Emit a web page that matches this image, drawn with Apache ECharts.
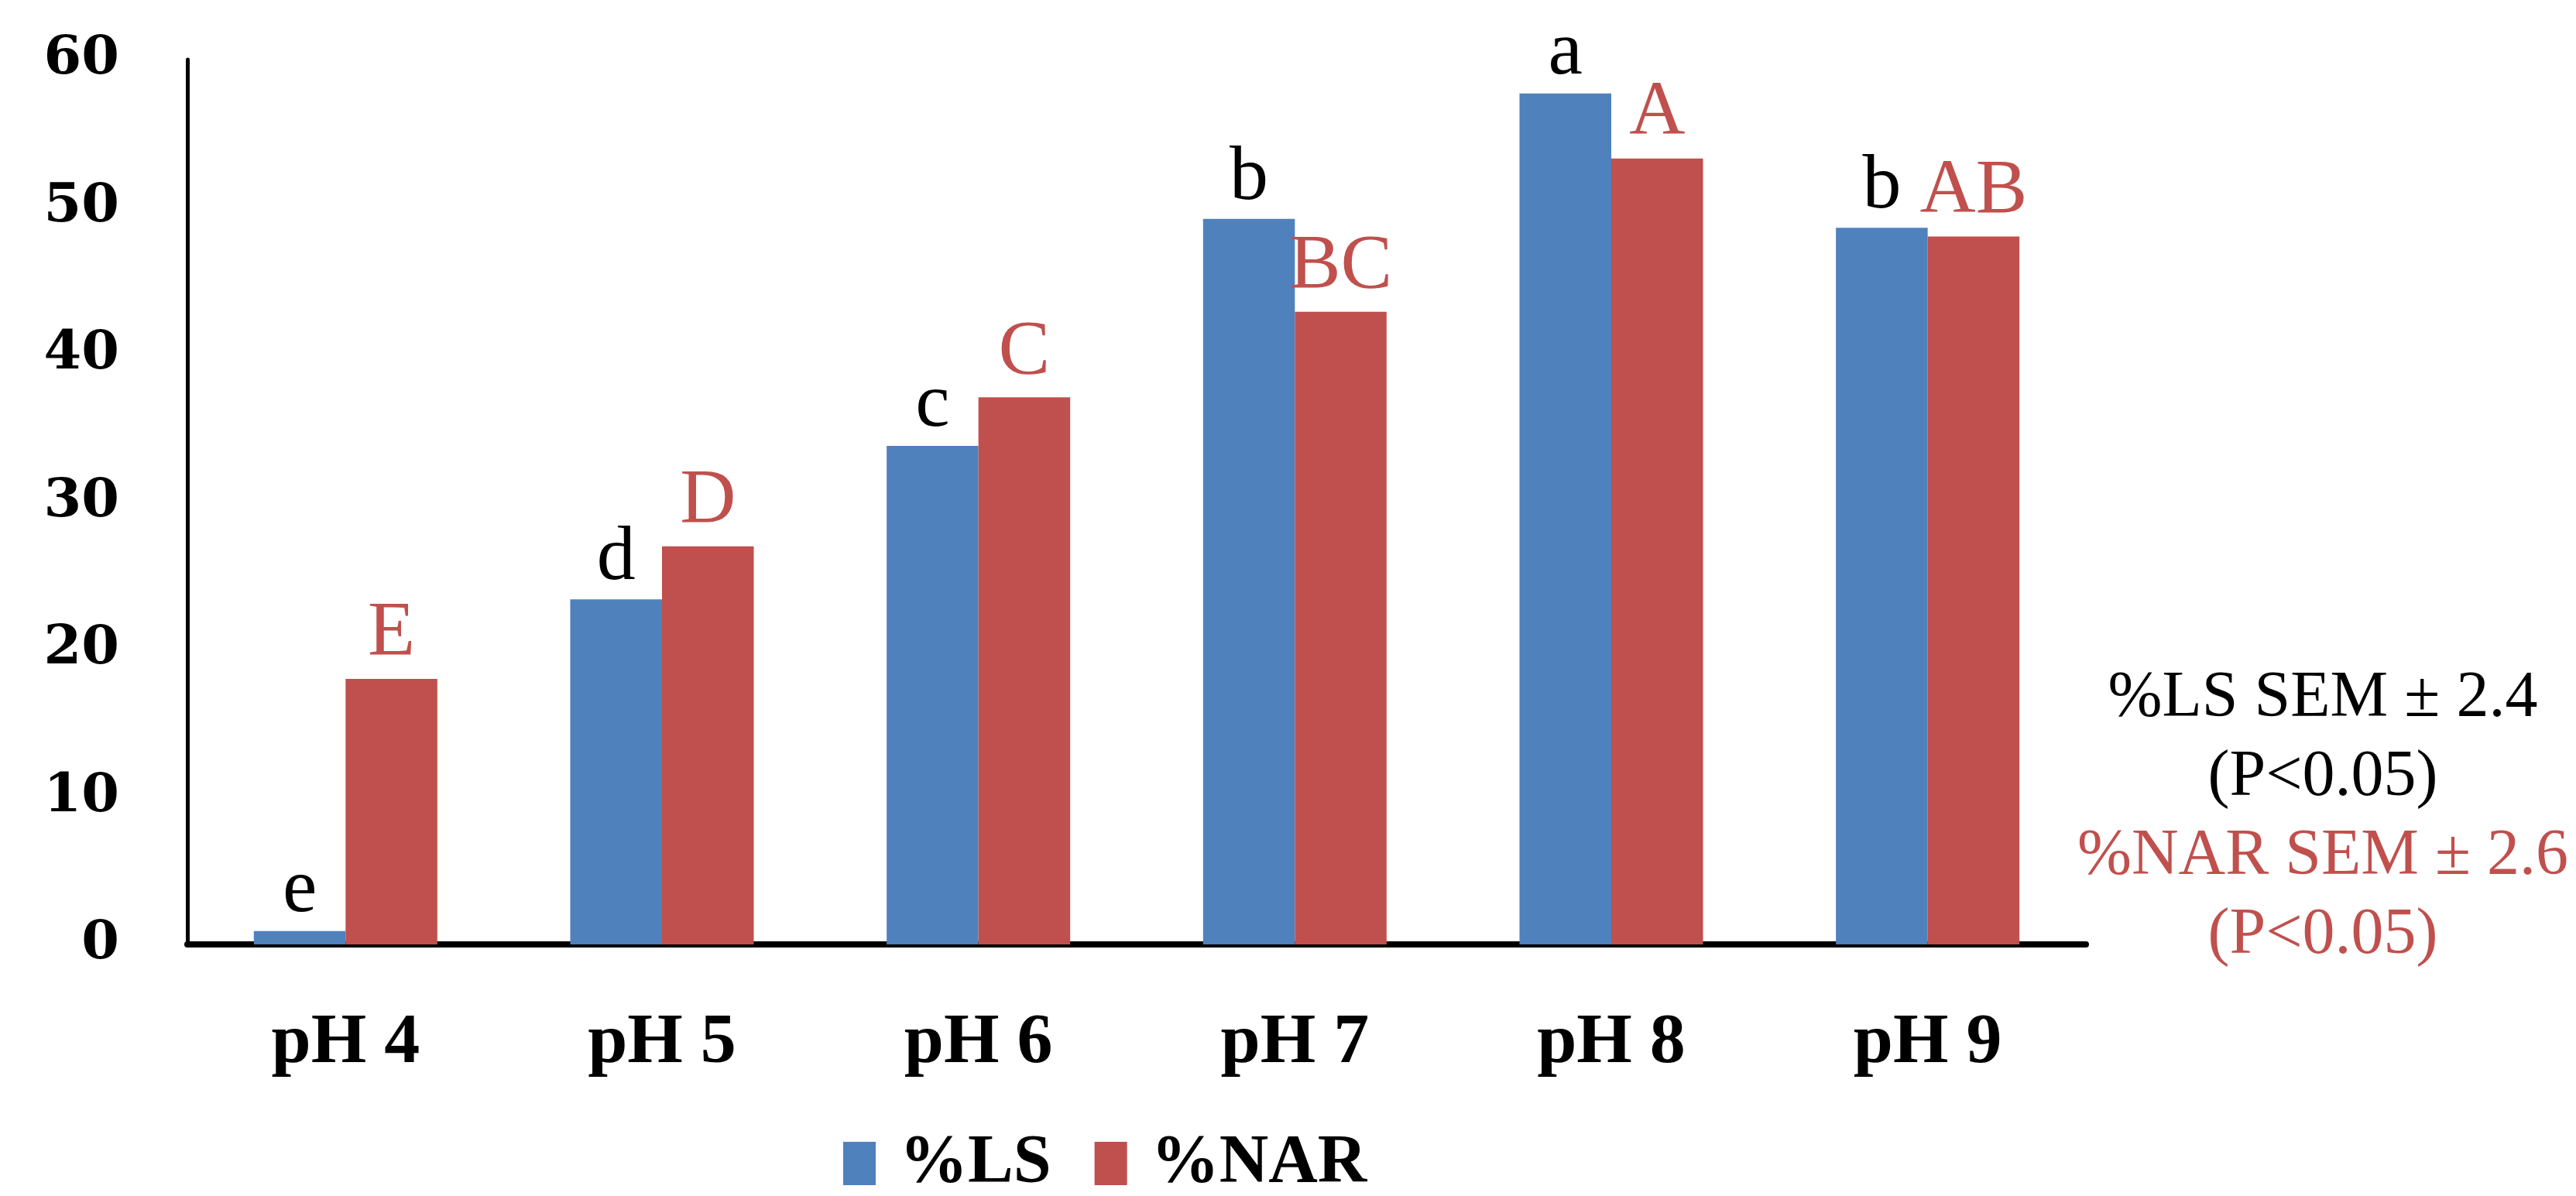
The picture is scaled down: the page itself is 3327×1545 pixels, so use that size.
<!DOCTYPE html>
<html>
<head>
<meta charset="utf-8">
<script src="https://cdn.jsdelivr.net/npm/echarts@6/dist/echarts.min.js"></script>
<style>
html,body{margin:0;padding:0;background:#fff;}
#chart{width:3327px;height:1545px;}
</style>
</head>
<body>
<div id="chart"></div>
<script>
const categories = ['pH 4', 'pH 5', 'pH 6', 'pH 7', 'pH 8', 'pH 9'];
const lsValues = [0.9, 23.4, 33.8, 49.2, 57.7, 48.6];
const narValues = [18.0, 27.0, 37.1, 42.9, 53.3, 48.0];
const lsLetters = ['e', 'd', 'c', 'b', 'a', 'b'];
const narLetters = ['E', 'D', 'C', 'BC', 'A', 'AB'];
const yTicks = [0, 10, 20, 30, 40, 50, 60];
const noteLines = ['%LS SEM \u00b1 2.4', '(P<0.05)', '%NAR SEM \u00b1 2.6', '(P<0.05)'];

const BLUE = '#4F81BD';
const RED = '#C0504D';
const FONT = 'Liberation Serif';

const chart = echarts.init(document.getElementById('chart'));
chart.setOption({
  backgroundColor: '#ffffff',
  animation: false,
  textStyle: { fontFamily: FONT },
  grid: { left: 242, right: 633, top: 77, bottom: 325, containLabel: false },
  legend: {
    left: 1084,
    top: 1454,
    itemWidth: 42,
    itemHeight: 56,
    itemGap: 56,
    icon: 'rect',
    textStyle: { fontFamily: FONT, fontSize: 88, fontWeight: 'bold', color: '#000', padding: [0, 0, 0, 26] },
    data: ['%LS', '%NAR']
  },
  xAxis: {
    type: 'category',
    data: categories,
    axisLine: { show: true, lineStyle: { color: '#000', width: 8 } },
    axisTick: { show: false },
    axisLabel: { fontFamily: FONT, fontSize: 92, fontWeight: 'bold', color: '#000', margin: 82 }
  },
  yAxis: {
    type: 'value',
    min: yTicks[0],
    max: yTicks[yTicks.length - 1],
    interval: 10,
    splitLine: { show: false },
    axisLine: { show: true, lineStyle: { color: '#000', width: 5 } },
    axisTick: { show: false },
    axisLabel: { fontFamily: 'DejaVu Serif', fontSize: 70, fontWeight: 'bold', color: '#000', margin: 88 }
  },
  series: [
    {
      name: '%LS',
      type: 'bar',
      data: lsValues,
      barWidth: '29%',
      barGap: '0%',
      itemStyle: { color: BLUE },
      label: {
        show: true, position: 'top', distance: 2,
        fontFamily: FONT, fontSize: 100, color: '#000',
        formatter: p => lsLetters[p.dataIndex]
      }
    },
    {
      name: '%NAR',
      type: 'bar',
      data: narValues,
      barWidth: '29%',
      barGap: '0%',
      itemStyle: { color: RED },
      label: {
        show: true, position: 'top', distance: 8,
        fontFamily: FONT, fontSize: 100, color: RED,
        formatter: p => narLetters[p.dataIndex]
      }
    }
  ],
  graphic: noteLines.map((t, i) => ({
    type: 'text',
    style: {
      text: t,
      x: 3000, y: 903 + i * 102,
      fontFamily: FONT, fontSize: 84,
      fill: i < 2 ? '#000' : RED,
      align: 'center', verticalAlign: 'middle'
    }
  }))
});
</script>
</body>
</html>
